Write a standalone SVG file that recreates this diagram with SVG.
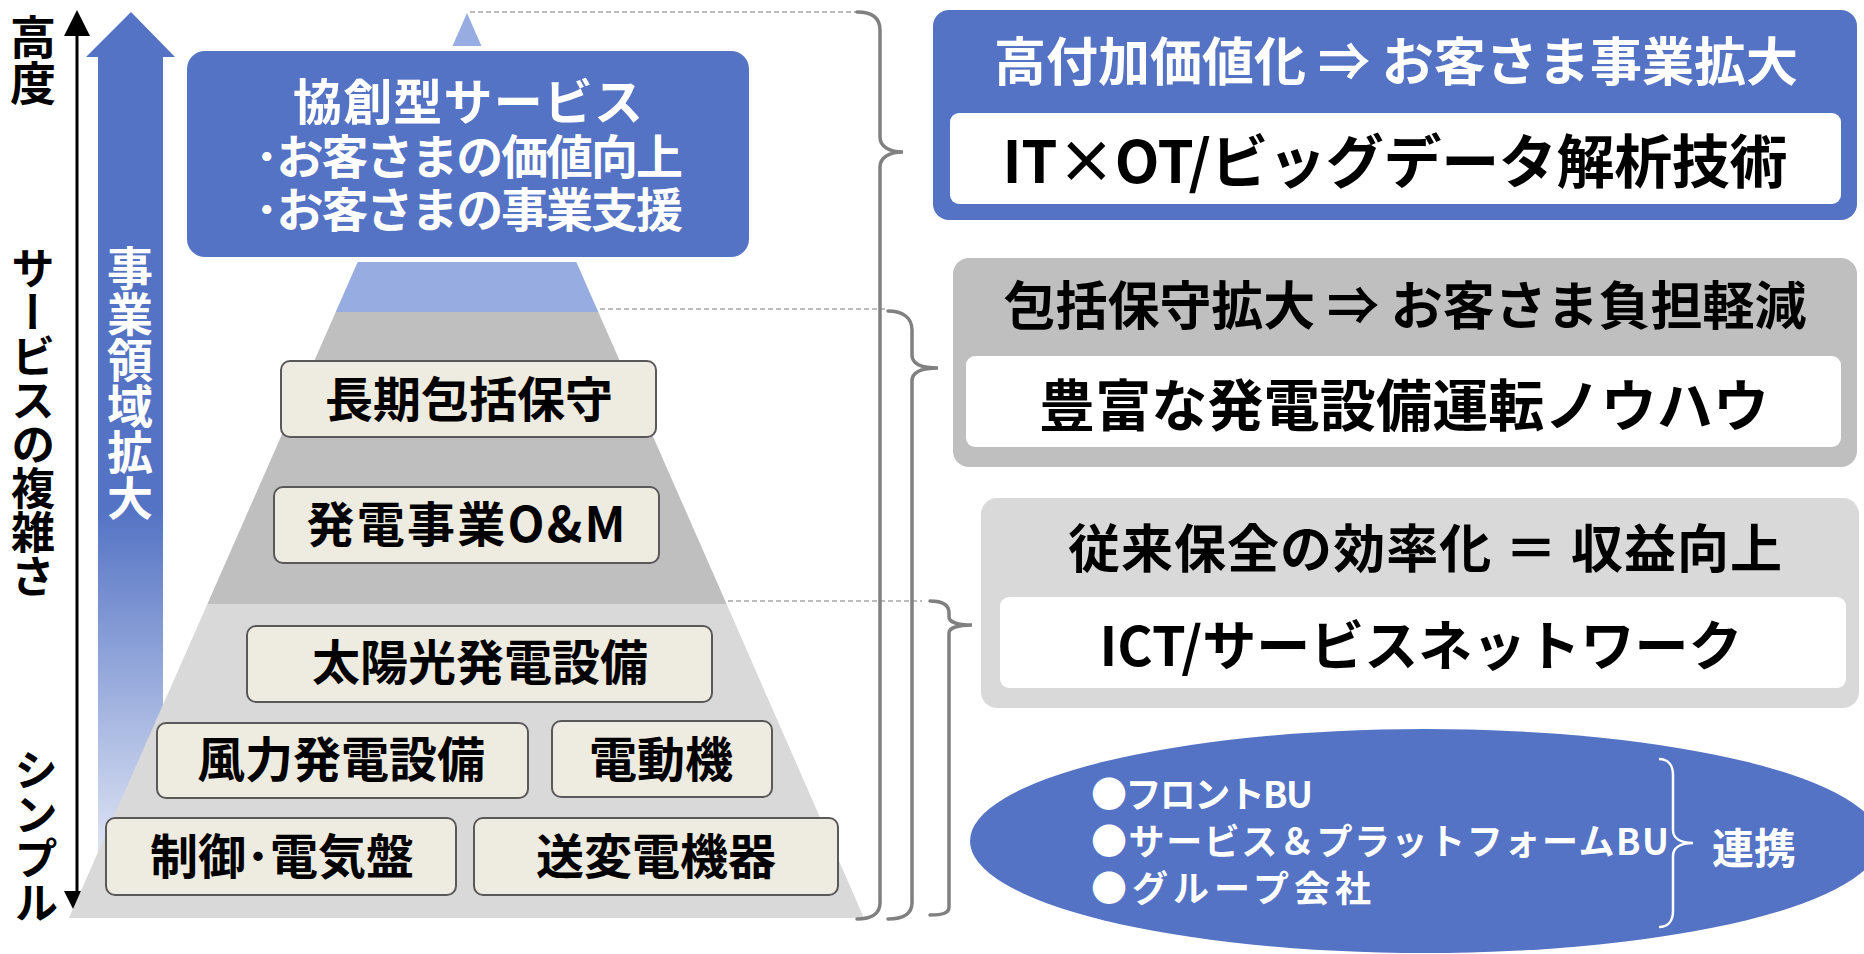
<svg xmlns="http://www.w3.org/2000/svg" width="1864" height="954" viewBox="0 0 1864 954">
<style>
text{font-family:"Noto Sans CJK JP","Noto Sans",sans-serif;font-weight:bold}
.w{fill:#FFFFFF}
.k{fill:#000000}
.pbox{fill:#EEECE1;stroke:#595959;stroke-width:2}
.brace{fill:none;stroke:#808080;stroke-width:3.5;stroke-linecap:round}
.dash{stroke:#A6A6A6;stroke-width:1.5;stroke-dasharray:5 3;fill:none}
.ptxt{font-size:48px;text-anchor:middle;fill:#000}
.vt{writing-mode:vertical-rl}
</style>
<defs>
<linearGradient id="arrowGrad" x1="0" y1="12" x2="0" y2="918" gradientUnits="userSpaceOnUse">
<stop offset="0" stop-color="#5473C4"/>
<stop offset="0.55" stop-color="#5473C4"/>
<stop offset="1" stop-color="#F7F9FD"/>
</linearGradient>
</defs>
<rect x="0" y="0" width="1864" height="954" fill="#FFFFFF"/>

<g id="axis">
<line x1="77" y1="30" x2="77" y2="896" stroke="#000" stroke-width="3"/>
<polygon points="77,10 64,36 90,36" fill="#000"/>
<polygon points="77,917 64,891 90,891" fill="#000"/>
<text class="k vt" x="33" y="14" font-size="46">高度</text>
<text class="k vt" x="33" y="246" font-size="44">サービスの複雑さ</text>
<text class="k vt" x="36" y="748" font-size="44">シンプル</text>
</g>

<g id="business-arrow">
<polygon points="131,12 175,57 163,57 163,918 98,918 98,57 86,57" fill="url(#arrowGrad)"/>
<text class="w vt" x="130" y="245" font-size="46">事業領域拡大</text>
</g>

<g id="pyramid">
<polygon points="467,13 598.3,312 335.7,312" fill="#97ADE2"/>
<polygon points="335.7,312 598.3,312 726.6,604 207.4,604" fill="#BFBFBF"/>
<polygon points="207.4,604 726.6,604 864,918 69,918" fill="#D9D9D9"/>
</g>

<g id="connectors">
<line class="dash" x1="470" y1="12" x2="857" y2="12"/>
<line class="dash" x1="600" y1="309" x2="886" y2="309"/>
<line class="dash" x1="728" y1="601" x2="922" y2="601"/>
<path class="brace" d="M857,12 C872,12 880,18 880,30 L880,137 C880,147 890,152 903,152 C890,152 880,157 880,167 L880,903 C880,913 872,919 857,919"/>
<path class="brace" d="M888,311 C903,311 912,318 912,330 L912,355 C912,364 922,368 938,368 C922,368 912,372 912,381 L912,903 C912,913 904,919 888,919"/>
<path class="brace" d="M930,601 C943,601 949,605 949,613 L949,617 C949,622 958,625 972,625 C958,625 949,628 949,633 L949,907 C949,913 943,915 930,915"/>
</g>

<g id="cocreation">
<rect x="187" y="51" width="562" height="206" rx="18" fill="#5473C4" stroke="#FFFFFF" stroke-width="10"/>
<rect x="187" y="51" width="562" height="206" rx="18" fill="#5473C4"/>
<text class="w" x="468" y="120" font-size="49" text-anchor="middle" textLength="350">協創型サービス</text>
<text class="w" x="469" y="174" font-size="47" text-anchor="middle" textLength="428">･お客さまの価値向上</text>
<text class="w" x="469" y="227" font-size="47" text-anchor="middle" textLength="428">･お客さまの事業支援</text>
</g>

<g id="long-term">
<rect class="pbox" x="281" y="361" width="375" height="76" rx="9"/>
<text class="ptxt" x="469" y="417">長期包括保守</text>
</g>
<g id="om">
<rect class="pbox" x="274" y="487" width="385" height="76" rx="9"/>
<text class="ptxt" x="466" y="542" textLength="319">発電事業O&amp;M</text>
</g>
<g id="solar">
<rect class="pbox" x="247" y="626" width="465" height="76" rx="9"/>
<text class="ptxt" x="480" y="680">太陽光発電設備</text>
</g>
<g id="wind">
<rect class="pbox" x="157" y="723" width="371" height="75" rx="9"/>
<text class="ptxt" x="341" y="777">風力発電設備</text>
</g>
<g id="motor">
<rect class="pbox" x="552" y="721" width="220" height="76" rx="9"/>
<text class="ptxt" x="661" y="777">電動機</text>
</g>
<g id="control">
<rect class="pbox" x="106" y="818" width="350" height="77" rx="9"/>
<text class="ptxt" x="282" y="874">制御･電気盤</text>
</g>
<g id="transmission">
<rect class="pbox" x="474" y="818" width="364" height="77" rx="9"/>
<text class="ptxt" x="656" y="874">送変電機器</text>
</g>

<g id="value-box">
<rect x="933" y="10" width="924" height="210" rx="16" fill="#5473C4"/>
<text class="w" x="1396" y="81" font-size="52" text-anchor="middle" textLength="804">高付加価値化 ⇒ お客さま事業拡大</text>
<rect x="950" y="113" width="891" height="91" rx="9" fill="#FFFFFF"/>
<text class="k" x="1395" y="183" font-size="58" text-anchor="middle" textLength="785">IT×OT/ビッグデータ解析技術</text>
</g>

<g id="maintenance-box">
<rect x="953" y="258" width="904" height="209" rx="16" fill="#BFBFBF"/>
<text class="k" x="1405" y="325" font-size="52" text-anchor="middle" textLength="803">包括保守拡大 ⇒ お客さま負担軽減</text>
<rect x="966" y="356" width="875" height="91" rx="9" fill="#FFFFFF"/>
<text class="k" x="1404" y="426" font-size="56" text-anchor="middle" textLength="730">豊富な発電設備運転ノウハウ</text>
</g>

<g id="efficiency-box">
<rect x="981" y="498" width="878" height="210" rx="16" fill="#D9D9D9"/>
<text class="k" x="1425" y="568" font-size="52" text-anchor="middle" textLength="714">従来保全の効率化 ＝ 収益向上</text>
<rect x="1000" y="597" width="846" height="91" rx="9" fill="#FFFFFF"/>
<text class="k" x="1421" y="666" font-size="54" text-anchor="middle" textLength="643">ICT/サービスネットワーク</text>
</g>

<g id="collaboration">
<ellipse cx="1425" cy="841" rx="455" ry="112" fill="#5473C4"/>
<text class="w" x="1091" y="808" font-size="36" textLength="222">●フロントBU</text>
<text class="w" x="1091" y="855" font-size="36" textLength="578">●サービス＆プラットフォームBU</text>
<text class="w" x="1091" y="902" font-size="36" textLength="280">●グループ会社</text>
<path d="M1659,759 C1668,759 1673,765 1673,775 L1673,830 C1673,838 1680,843 1693,843 C1680,843 1673,848 1673,856 L1673,911 C1673,921 1668,927 1659,927" fill="none" stroke="#FFFFFF" stroke-width="2.5"/>
<text class="w" x="1754" y="864" font-size="42" text-anchor="middle">連携</text>
</g>
</svg>
